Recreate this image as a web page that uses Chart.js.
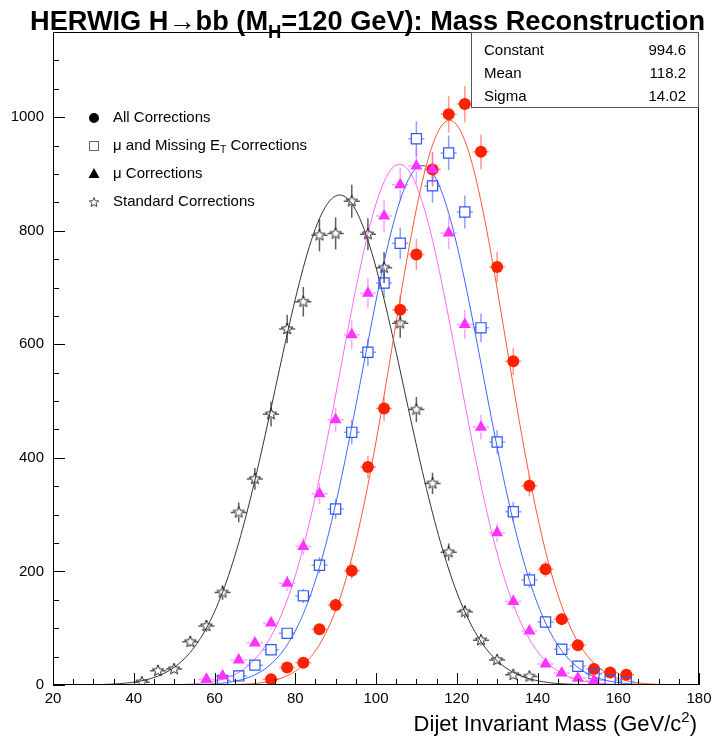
<!DOCTYPE html>
<html>
<head>
<meta charset="utf-8">
<script src="https://cdn.jsdelivr.net/npm/chart.js@4.4.1/dist/chart.umd.min.js"></script>
<style>
  html, body { margin: 0; padding: 0; background: #fff; }
</style>
</head>
<body>
<canvas id="c" width="719" height="742"></canvas>
<script>
// Histogram bin centres (4 GeV/c^2 bins from 20 to 180)
const binCenters = [22, 26, 30, 34, 38, 42, 46, 50, 54, 58, 62, 66, 70, 74, 78, 82, 86, 90, 94, 98,
                    102, 106, 110, 114, 118, 122, 126, 130, 134, 138, 142, 146, 150, 154, 158, 162, 166, 170, 174, 178];

// Entries per bin for each reconstruction (null = empty bin)
const allCorrections = [null, null, null, null, null, null, null, null, null, null, null, null,
  null, 10, 31, 39, 98, 141, 201, 384, 487, 661, 758, 908, 1005, 1023, 939, 736, 570, 351, 204, 116, 70, 28, 22, 18, null, null, null, null];
const muMissingEtCorrections = [null, null, null, null, null, null, null, null,
  null, null, 8, 16, 35, 62, 91, 157, 211, 310, 445, 586, 708, 778, 962, 879, 937, 833, 629, 428, 305, 185, 111, 63, 33, 20, 9, 6, null, null, null, null];
const muCorrections = [null, null, null, null, null, null, null, null,
  null, 10, 16, 44, 74, 109, 179, 244, 337, 467, 617, 690, 826, 881, 914, 908, 796, 635, 454, 268, 147, 95, 37, 21, 12, 8, null, null, null, null, null, null];
const standardCorrections = [null, null, null,
  null, null, 5, 25, 28, 76, 104, 163, 304, 363, 477, 627, 675, 792, 795, 852, 794, 735, 637, 485, 355, 234, 129, 79, 44, 18, 15, null, null, null,
  null, null, null, null, null, null, null];

// Gaussian fit parameters, in the order: All, mu+MET, mu, Standard
const fitConstant = [994.6, 915, 917, 863];
const fitMean     = [118.2, 111.5, 105.8, 91.0];
const fitSigma    = [14.02, 14.8, 14.6, 15.9];

// Stats box of the "All Corrections" fit
const statNames  = ['Constant', 'Mean', 'Sigma'];
const statValues = ['994.6', '118.2', '14.02'];

// Axis ticks
const xMajorTicks = [20, 40, 60, 80, 100, 120, 140, 160, 180];
const yMajorTicks = [0, 200, 400, 600, 800, 1000];

const FONT = "'Liberation Sans', Arial, Helvetica, sans-serif";

function starImage(outer, inner, color, lw) {
  const s = Math.ceil(outer * 2 + 4);
  const c = document.createElement('canvas');
  c.width = s; c.height = s;
  const g = c.getContext('2d');
  g.translate(s / 2, s / 2);
  g.beginPath();
  for (let k = 0; k < 10; k++) {
    const r = k % 2 ? inner : outer;
    const a = -Math.PI / 2 + k * Math.PI / 5;
    g.lineTo(r * Math.cos(a), r * Math.sin(a));
  }
  g.closePath();
  g.strokeStyle = color; g.lineWidth = lw; g.stroke();
  return c;
}

const starPoint = starImage(6, 2.6, '#222', 1);

function points(values) {
  const out = [];
  values.forEach((v, i) => { if (v !== null) out.push({ x: binCenters[i], y: v }); });
  return out;
}

function gaussCurve(k) {
  const out = [];
  for (let x = 20; x <= 180.001; x += 0.5) {
    const t = (x - fitMean[k]) / fitSigma[k];
    out.push({ x: x, y: fitConstant[k] * Math.exp(-0.5 * t * t) });
  }
  return out;
}

const series = [
  { name: 'All Corrections', values: allCorrections, color: '#ff2200', line: '#ff5533', bar: 'rgba(255,70,40,0.55)', style: 'circle', radius: 6, fill: true, gap: 5 },
  { name: 'mu and Missing ET Corrections', values: muMissingEtCorrections, color: '#2f55f5', line: '#3a66ff', bar: 'rgba(60,100,245,0.6)', style: 'rect', radius: 7.2, fill: false, gap: 5 },
  { name: 'mu Corrections', values: muCorrections, color: '#ff33ff', line: '#ff66ff', bar: 'rgba(255,80,255,0.55)', style: 'triangle', radius: 7, fill: true, gap: 5 },
  { name: 'Standard Corrections', values: standardCorrections, color: '#222', line: '#333', bar: 'rgba(40,40,40,0.75)', style: starPoint, radius: 6, fill: false, gap: 4 }
];

const datasets = [];
series.forEach((s, k) => {
  datasets.push({
    type: 'line',
    label: s.name + ' fit',
    data: gaussCurve(k),
    borderColor: s.line,
    borderWidth: 1,
    pointRadius: 0,
    fill: false,
    tension: 0,
    order: 10 + k
  });
  datasets.push({
    type: 'scatter',
    label: s.name,
    data: points(s.values),
    pointStyle: s.style,
    pointRadius: s.radius,
    pointHoverRadius: s.radius,
    pointBackgroundColor: s.fill ? s.color : 'rgba(0,0,0,0)',
    pointBorderColor: s.color,
    pointBorderWidth: s.fill ? 0 : 1.2,
    showLine: false,
    order: 4 - k,
    seriesIndex: k
  });
});

// Draws a run of text where parts may be sub- or superscript
function richText(ctx, segs, x, y, size, weight, measureOnly) {
  let cx = x;
  segs.forEach(sg => {
    const fs = sg.sub || sg.sup ? size * 0.68 : size;
    ctx.font = `${weight} ${fs}px ${FONT}`;
    const dy = sg.sub ? size * 0.28 : (sg.sup ? -size * 0.42 : 0);
    if (!measureOnly) ctx.fillText(sg.t, cx, y + dy);
    cx += ctx.measureText(sg.t).width;
  });
  return cx - x;
}

const errorBars = {
  id: 'errorBars',
  beforeDatasetsDraw(chart) {
    const ctx = chart.ctx;
    const xs = chart.scales.x, ys = chart.scales.y;
    ctx.save();
    chart.data.datasets.forEach(ds => {
      if (ds.seriesIndex === undefined) return;
      const s = series[ds.seriesIndex];
      ctx.strokeStyle = s.bar;
      ctx.lineWidth = 1.5;
      ds.data.forEach(p => {
        const px = xs.getPixelForValue(p.x);
        const py = ys.getPixelForValue(p.y);
        const err = Math.sqrt(p.y);
        const top = ys.getPixelForValue(p.y + err);
        const bot = Math.min(ys.getPixelForValue(Math.max(p.y - err, 0)), chart.chartArea.bottom);
        const left = xs.getPixelForValue(p.x - 2);
        const right = xs.getPixelForValue(p.x + 2);
        ctx.beginPath();
        if (top < py - s.gap) { ctx.moveTo(px, top); ctx.lineTo(px, py - s.gap); }
        if (bot > py + s.gap) { ctx.moveTo(px, py + s.gap); ctx.lineTo(px, bot); }
        ctx.moveTo(left, py); ctx.lineTo(px - s.gap, py);
        ctx.moveTo(px + s.gap, py); ctx.lineTo(right, py);
        ctx.stroke();
      });
    });
    ctx.restore();
  }
};

const decorations = {
  id: 'decorations',
  afterDraw(chart) {
    const ctx = chart.ctx;
    const a = chart.chartArea;
    const xs = chart.scales.x, ys = chart.scales.y;
    ctx.save();

    // frame
    ctx.strokeStyle = '#000';
    ctx.lineWidth = 1;
    ctx.strokeRect(Math.round(a.left) + 0.5, Math.round(a.top) + 0.5,
                   Math.round(a.right - a.left) - 1, Math.round(a.bottom - a.top) - 1);

    // x ticks (inward)
    ctx.beginPath();
    for (let v = 20; v <= 180; v += 5) {
      const px = Math.round(xs.getPixelForValue(v)) + 0.5;
      const len = xMajorTicks.includes(v) ? 12 : 6;
      ctx.moveTo(px, a.bottom); ctx.lineTo(px, a.bottom - len);
    }
    // y ticks (inward)
    for (let v = 0; v <= ys.max; v += 50) {
      const py = Math.round(ys.getPixelForValue(v)) + 0.5;
      const len = yMajorTicks.includes(v) ? 12 : 6;
      ctx.moveTo(a.left, py); ctx.lineTo(a.left + len, py);
    }
    ctx.stroke();

    ctx.fillStyle = '#000';
    ctx.font = `15px ${FONT}`;
    ctx.textAlign = 'center';
    ctx.textBaseline = 'top';
    xMajorTicks.forEach(v => ctx.fillText(String(v), xs.getPixelForValue(v), a.bottom + 6));
    ctx.textAlign = 'right';
    ctx.textBaseline = 'middle';
    yMajorTicks.forEach(v => ctx.fillText(String(v), a.left - 9, ys.getPixelForValue(v)));

    // x-axis title, right aligned
    ctx.textAlign = 'left';
    ctx.textBaseline = 'alphabetic';
    const xTitle = [{ t: 'Dijet Invariant Mass (GeV/c' }, { t: '2', sup: true }, { t: ')' }];
    const wx = richText(ctx, xTitle, 0, 0, 22, 'normal', true);
    richText(ctx, xTitle, a.right - 2 - wx, 731, 22, 'normal');

    // main title, bold and fitted to the full width
    const title = [{ t: 'HERWIG H\u2192bb (M' }, { t: 'H', sub: true }, { t: '=120 GeV): Mass Reconstruction' }];
    const wt = richText(ctx, title, 0, 0, 27, 'bold', true);
    ctx.save();
    ctx.translate(30, 30);
    ctx.scale(675 / wt, 1);
    richText(ctx, title, 0, 0, 27, 'bold');
    ctx.restore();

    // stats box
    const bx = 471, by = Math.round(a.top), bw = Math.round(a.right) - 471, bh = 108 - by;
    ctx.fillStyle = '#fff';
    ctx.fillRect(bx, by, bw, bh);
    ctx.strokeStyle = '#555';
    ctx.strokeRect(bx + 0.5, by + 0.5, bw - 1, bh - 1);
    ctx.fillStyle = '#000';
    ctx.font = `15px ${FONT}`;
    ctx.textBaseline = 'middle';
    statNames.forEach((n, i) => {
      const ty = 51 + i * 23;
      ctx.textAlign = 'left';
      ctx.fillText(n, 484, ty);
      ctx.textAlign = 'right';
      ctx.fillText(statValues[i], 686, ty);
    });

    // legend
    const lx = 94, tx = 113;
    const rows = [118, 146, 174, 202];
    ctx.fillStyle = '#000';
    ctx.beginPath(); ctx.arc(lx, rows[0], 5, 0, Math.PI * 2); ctx.fill();
    ctx.strokeStyle = '#666'; ctx.lineWidth = 1;
    ctx.strokeRect(lx - 4.5, rows[1] - 4.5, 9, 9);
    ctx.beginPath();
    ctx.moveTo(lx, rows[2] - 6); ctx.lineTo(lx + 5.5, rows[2] + 4); ctx.lineTo(lx - 5.5, rows[2] + 4);
    ctx.closePath(); ctx.fill();
    ctx.beginPath();
    for (let k = 0; k < 10; k++) {
      const r = k % 2 ? 2.2 : 5;
      const ang = -Math.PI / 2 + k * Math.PI / 5;
      ctx.lineTo(lx + r * Math.cos(ang), rows[3] + 0.5 + r * Math.sin(ang));
    }
    ctx.closePath(); ctx.strokeStyle = '#444'; ctx.stroke();

    ctx.fillStyle = '#000';
    ctx.textAlign = 'left';
    ctx.textBaseline = 'middle';
    const legendTexts = [
      [{ t: 'All Corrections' }],
      [{ t: '\u03bc and Missing E' }, { t: 'T', sub: true }, { t: ' Corrections' }],
      [{ t: '\u03bc Corrections' }],
      [{ t: 'Standard Corrections' }]
    ];
    legendTexts.forEach((segs, i) => richText(ctx, segs, tx, rows[i], 15, 'normal'));

    ctx.restore();
  }
};

new Chart(document.getElementById('c'), {
  data: { datasets: datasets },
  options: {
    responsive: false,
    animation: false,
    events: [],
    layout: { padding: { left: 53, right: 20, top: 32, bottom: 57 } },
    scales: {
      x: { type: 'linear', min: 20, max: 180, display: false },
      y: { type: 'linear', min: 0, max: 1150, display: false }
    },
    plugins: {
      legend: { display: false },
      title: { display: false },
      tooltip: { enabled: false }
    }
  },
  plugins: [errorBars, decorations]
});
</script>
</body>
</html>
